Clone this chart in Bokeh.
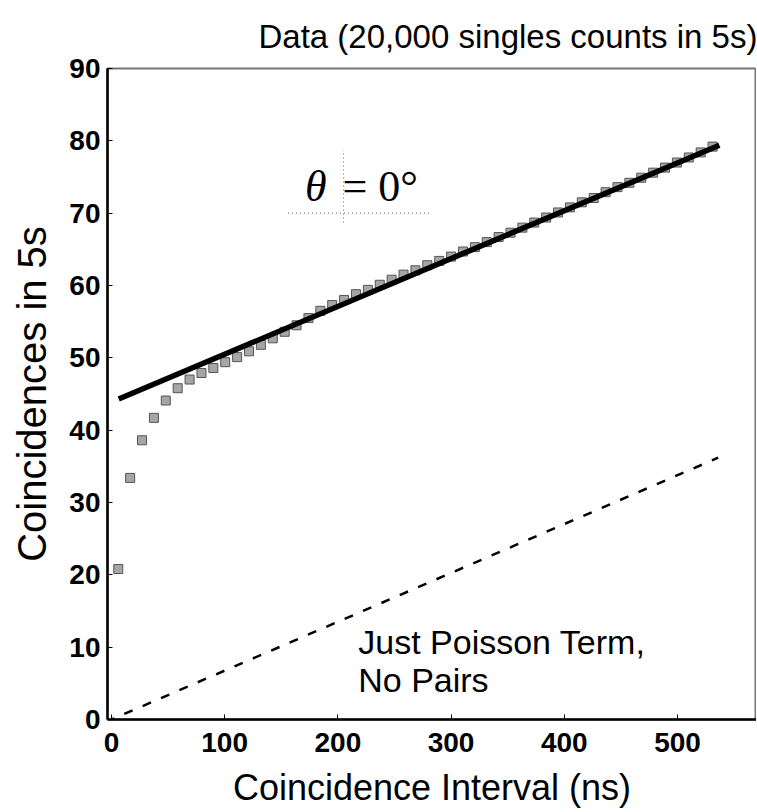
from bokeh.plotting import figure
from bokeh.models import Range1d, FixedTicker, Title, ColumnDataSource
from bokeh.core.properties import value
from bokeh.embed import file_html
from bokeh.resources import INLINE

# ---- data ----
interval_ns = [6, 16.5, 27, 37.5, 48, 58.5, 69, 79.5, 90, 100.5, 111, 121.5, 132, 142.5, 153,
               163.5, 174, 184.5, 195, 205.5, 216, 226.5, 237, 247.5, 258, 268.5, 279, 289.5,
               300, 310.5, 321, 331.5, 342, 352.5, 363, 373.5, 384, 394.5, 405, 415.5, 426,
               436.5, 447, 457.5, 468, 478.5, 489, 499.5, 510, 520.5, 531]
coincidences = [20.8, 33.4, 38.6, 41.7, 44.1, 45.8, 47.0, 47.9, 48.6, 49.4, 50.1, 50.9, 51.8,
                52.7, 53.6, 54.5, 55.5, 56.5, 57.3, 58.0, 58.8, 59.4, 60.1, 60.8, 61.5, 62.1,
                62.8, 63.4, 64.0, 64.7, 65.3, 66.0, 66.7, 67.3, 68.0, 68.7, 69.4, 70.1, 70.8,
                71.5, 72.1, 72.9, 73.6, 74.2, 74.9, 75.6, 76.3, 77.0, 77.7, 78.4, 79.2]
fit_x = [6.4, 537]
fit_y = [44.3, 79.4]
poisson_x = [0, 536]
poisson_y = [0, 36.2]
x_ticks = [0, 100, 200, 300, 400, 500]
y_ticks = [0, 10, 20, 30, 40, 50, 60, 70, 80, 90]

FONT = "Liberation Sans"

p = figure(width=756, height=810, output_backend="svg", toolbar_location=None,
           x_range=Range1d(-3.5, 569.8), y_range=Range1d(0, 90),
           min_border_left=107, min_border_top=68, min_border_bottom=91, min_border_right=0)
p.title = None
p.add_layout(Title(text="Data (20,000 singles counts in 5s)", align="left", offset=151,
                   standoff=28, text_font=FONT, text_font_size="33px",
                   text_font_style="normal", text_color="black"), "above")

p.grid.visible = False
p.outline_line_color = "#777777"
p.outline_line_width = 2
p.background_fill_color = "white"
p.border_fill_color = "white"

for ax in (p.xaxis[0], p.yaxis[0]):
    ax.axis_line_color = "black"
    ax.axis_line_width = 2.5
    ax.major_tick_in = 5
    ax.major_tick_out = 0
    ax.major_tick_line_color = "black"
    ax.minor_tick_line_color = None
    ax.major_label_text_font = FONT
    ax.major_label_text_font_size = "28px"
    ax.major_label_text_font_style = "bold"
    ax.major_label_text_color = "black"
    ax.axis_label_text_font = FONT
    ax.axis_label_text_font_style = "normal"
    ax.axis_label_text_color = "black"

p.xaxis.ticker = FixedTicker(ticks=x_ticks)
p.yaxis.ticker = FixedTicker(ticks=y_ticks)
p.xaxis.axis_label = "Coincidence Interval (ns)"
p.yaxis.axis_label = "Coincidences in 5s"
p.xaxis.axis_label_text_font_size = "36px"
p.yaxis.axis_label_text_font_size = "40px"
p.xaxis.major_label_standoff = 13
p.xaxis.axis_label_standoff = 12
p.yaxis.major_label_standoff = 7
p.yaxis.axis_label_standoff = 12

# Poisson term (dashed)
p.line(poisson_x, poisson_y, line_color="black", line_width=2.5, line_dash="9 11",
       line_dash_offset=-14)

# data squares
src = ColumnDataSource(dict(x=interval_ns, y=coincidences))
p.scatter("x", "y", source=src, marker="square", size=9, fill_color="#a6a6a6",
          line_color="#555555", line_width=1)

# fit line
p.line(fit_x, fit_y, line_color="black", line_width=5.5)

# crosshair artefact around label
p.line([205, 205], [68.7, 78.7], line_color="#666666", line_width=1, line_dash="1 3")
p.line([156, 282], [70.0, 70.0], line_color="#666666", line_width=1, line_dash="1 3")

# annotation theta = 0
p.text(x=[171], y=[73.7], text=["θ"], text_font=value("Liberation Serif"),
       text_font_style="italic", text_font_size="44px", text_baseline="middle",
       text_align="left", text_color="black")
p.text(x=[204], y=[73.7], text=["= 0°"], text_font=value("Liberation Serif"),
       text_font_size="44px", text_baseline="middle", text_align="left", text_color="black")

# annotation for Poisson line
p.text(x=[218, 218], y=[10.65, 5.4], text=["Just Poisson Term,", "No Pairs"],
       text_font=value(FONT), text_font_size="34px", text_baseline="middle",
       text_align="left", text_color="black")

open("out.html", "w").write(file_html(p, INLINE))
